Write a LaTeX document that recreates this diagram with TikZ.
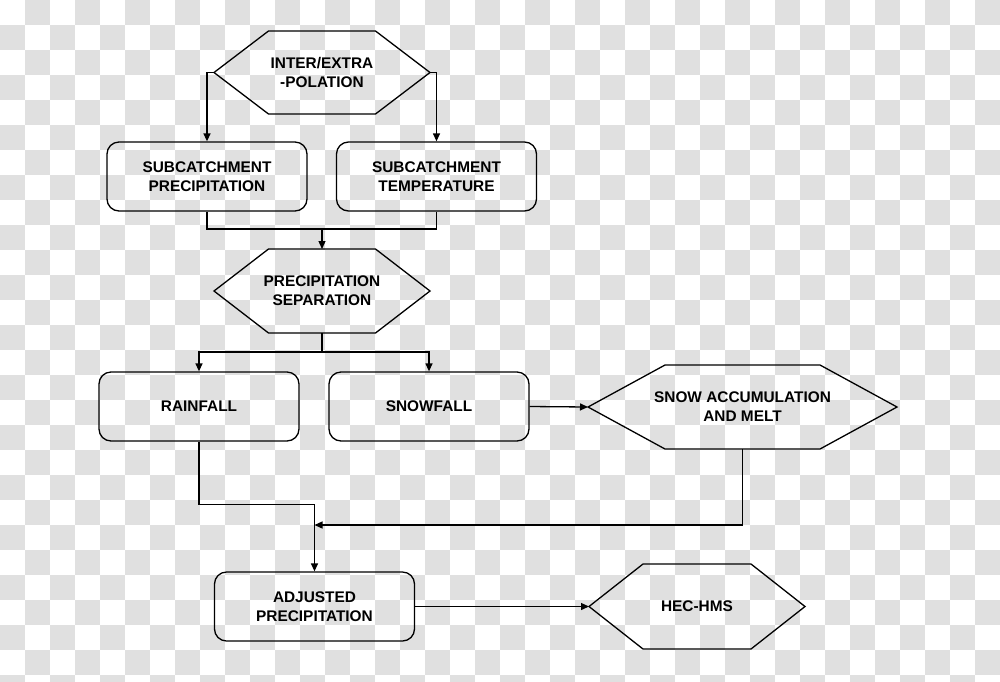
\documentclass[tikz,border=0pt]{standalone}
\usepackage{fontspec}
\setmainfont{Liberation Sans}
\usepackage{xcolor}
\usetikzlibrary{arrows.meta}
\definecolor{colDamier}{RGB}{224,224,224}

\newcommand{\etiq}{\fontsize{15.4}{19}\selectfont\bfseries}

\tikzset{
  boite/.style={draw, line width=1.3pt, rounded corners=12pt,
                minimum width=200pt, minimum height=69pt,
                align=center, inner sep=0pt, font=\etiq},
  hexlabel/.style={align=center, inner sep=0pt, font=\etiq},
  hexbord/.style={line width=1.3pt, line join=miter},
  lien/.style={line width=1.3pt},
}

% Hexagone : nom, cx, cy, demi-largeur, demi-largeur interne, demi-hauteur, texte
\newcommand{\hexa}[7]{%
  \coordinate (#1-w) at (#2-#4,#3);
  \coordinate (#1-e) at (#2+#4,#3);
  \coordinate (#1-n) at (#2,#3-#6);
  \coordinate (#1-s) at (#2,#3+#6);
  \draw[hexbord] (#1-w) -- (#2-#5,#3-#6) -- (#2+#5,#3-#6) -- (#1-e)
      -- (#2+#5,#3+#6) -- (#2-#5,#3+#6) -- cycle;
  \node[hexlabel] (#1) at (#2,#3) {#7};
}

\begin{document}
\begin{tikzpicture}[x=1pt, y=-1pt, >={Triangle[length=8pt,width=7pt]}]

\useasboundingbox (0,0) rectangle (1000,681);
\clip (0,0) rectangle (1000,681);

% Fond en damier
\fill[white] (0,0) rectangle (1000,681);
\foreach \i in {0,2,...,38} {
    \foreach \j in {1,3,...,27} {
        \fill[colDamier] (\i*25,\j*25) rectangle ++(25,25);
    }
}
\foreach \i in {1,3,...,39} {
    \foreach \j in {0,2,...,26} {
        \fill[colDamier] (\i*25,\j*25) rectangle ++(25,25);
    }
}

% Hexagones
\hexa{interp}{322}{72.5}{108}{53.5}{41.5}{INTER/EXTRA\\-POLATION}
\hexa{separ}{322}{291}{108}{53.5}{42}{PRECIPITATION\\SEPARATION}
\hexa{accum}{742.5}{407}{154.5}{77.5}{42}{SNOW ACCUMULATION\\AND MELT}
\hexa{hec}{697}{606.5}{108}{54}{42.5}{HEC-HMS}

% Boîtes arrondies
\node[boite] (subprec) at (207,176.5)   {SUBCATCHMENT\\PRECIPITATION};
\node[boite] (subtemp) at (436.5,176.5) {SUBCATCHMENT\\TEMPERATURE};
\node[boite] (rain)    at (199,406.5)   {RAINFALL};
\node[boite] (snow)    at (429,406.5)   {SNOWFALL};
\node[boite] (adj)     at (314.5,606.5) {ADJUSTED\\PRECIPITATION};

% Points de jonction
\coordinate (merge1) at (322,229);
\coordinate (split1) at (322,352);
\coordinate (meltjoin) at (314.5,525);

% Liaisons
\draw[lien,->] (interp-w) -| (subprec.north);
\draw[lien,->] (interp-e) -| (subtemp.north);
\draw[lien] (subprec.south) |- (merge1) -| (subtemp.south);
\draw[lien,->] (merge1) -- (separ-n);
\draw[lien] (separ-s) -- (split1);
\draw[lien,->] (split1) -| (rain.north);
\draw[lien,->] (split1) -| (snow.north);
\draw[lien,->] (snow.east) -- (accum-w);
\draw[lien,->] (rain.south) -- ++(0,63) -| (adj.north);
\draw[lien,->] (accum-s) |- (meltjoin);
\draw[lien,->] (adj.east) -- (hec-w);

\end{tikzpicture}
\end{document}
